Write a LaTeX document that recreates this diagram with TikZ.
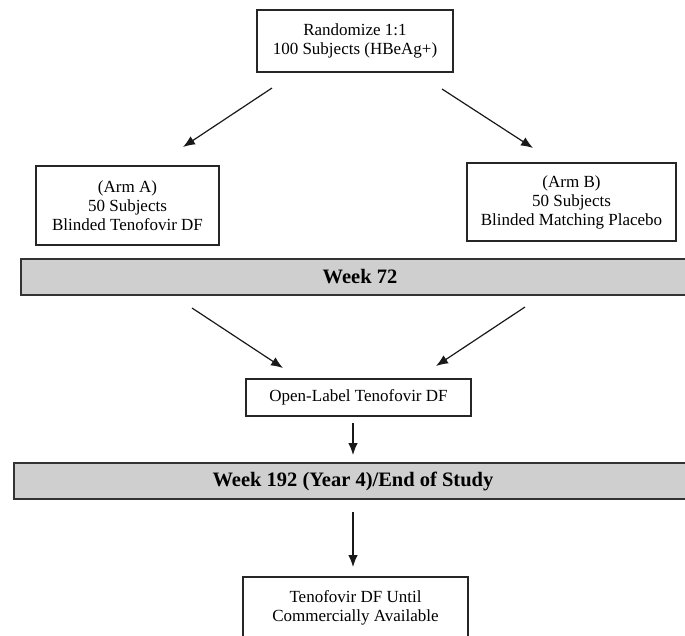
\documentclass[tikz,border=0pt]{standalone}
\usepackage{fontspec}
\setmainfont{Liberation Serif}
\usetikzlibrary{positioning,arrows.meta}

\tikzset{
    stagebox/.style={draw=black!85, line width=1.2pt, fill=white, align=center, inner sep=0pt,
                     font=\fontsize{17}{19}\selectfont},
    weekbar/.style={draw=black!80, line width=1.4pt, fill=black!19, align=center, inner sep=0pt,
                    font=\fontsize{20.5}{23}\selectfont\bfseries},
    flow/.style={draw=black!90, line width=1.2pt, -{Latex[length=12pt,width=9.5pt]}}
}

\begin{document}
\begin{tikzpicture}[x=1pt, y=-1pt]
    \useasboundingbox (0,0) rectangle (685,635);
    \clip (0,0) rectangle (685,635);

        % boxes
        \node[stagebox, minimum width=196pt, minimum height=62pt] (rand) at (355,41) {Randomize 1:1\\100 Subjects (HBeAg+)};
        \node[stagebox, minimum width=183pt, minimum height=79pt] (armA) at (127.5,205.5) {(Arm A)\\50 Subjects\\Blinded Tenofovir DF};
        \node[stagebox, minimum width=209pt, minimum height=78pt] (armB) at (571.5,202) {(Arm B)\\50 Subjects\\Blinded Matching Placebo};
        \node[weekbar, minimum width=678pt, minimum height=36pt] (wk72) at (360,277) {Week 72};
        \node[stagebox, minimum width=225pt, minimum height=37pt] (open) at (358.5,397.5) {Open-Label Tenofovir DF};
        \node[weekbar, minimum width=678pt, minimum height=36pt] (wk192) at (353,481) {Week 192 (Year 4)/End of Study};
        \node[stagebox, minimum width=225pt, minimum height=62pt] (cont) at (355.5,608) {Tenofovir DF Until\\Commercially Available};

        % arrow ends
        \coordinate (randL) at (272,88);
        \coordinate (armAtop) at (183,147);
        \coordinate (randR) at (442,89);
        \coordinate (armBtop) at (533,148);
        \coordinate (wkL) at (192,308);
        \coordinate (openL) at (283,368);
        \coordinate (wkR) at (525,307);
        \coordinate (openR) at (436,366);
        \coordinate (openB) at (353,423);
        \coordinate (wkTop) at (353,455);
        \coordinate (wkB) at (353,512);
        \coordinate (contTop) at (353,567);

        \draw[flow] (randL) -- (armAtop);
        \draw[flow] (randR) -- (armBtop);
        \draw[flow] (wkL) -- (openL);
        \draw[flow] (wkR) -- (openR);
        \draw[flow] (openB) -- (wkTop);
        \draw[flow] (wkB) -- (contTop);
    \end{tikzpicture}
\end{document}
